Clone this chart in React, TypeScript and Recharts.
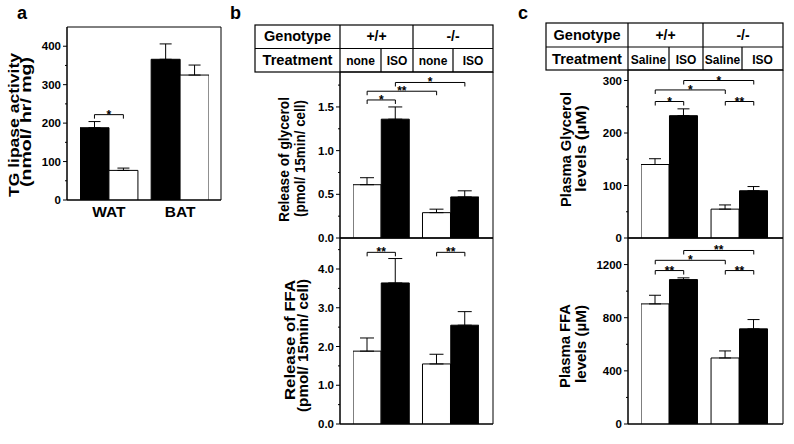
import React from 'react';
import {
  BarChart,
  Bar,
  XAxis,
  YAxis,
  CartesianGrid,
  ErrorBar,
  ReferenceLine,
  Cell
} from 'recharts';

// a: TG lipase activity, black = +/+, white = -/-
const tissues = ['WAT', 'BAT'];
const lipaseBlack = [188, 366];
const lipaseBlackErr = [16, 40];
const lipaseWhite = [77, 325];
const lipaseWhiteErr = [6, 26];
const lipaseTicks = [0, 100, 200, 300, 400];
const lipaseMinor = [50, 150, 250, 350];

// b: isolated adipocytes, bar order +/+ none, +/+ ISO, -/- none, -/- ISO
const genotypes = ['+/+', '-/-'];
const cellTreatments = ['none', 'ISO', 'none', 'ISO'];
const cellGlycerol = [0.61, 1.36, 0.29, 0.47];
const cellGlycerolErr = [0.08, 0.14, 0.04, 0.07];
const cellGlycerolTicks = [0, 0.5, 1, 1.5];
const cellGlycerolMinor = [0.25, 0.75, 1.25, 1.75];
const cellFfa = [1.88, 3.64, 1.55, 2.55];
const cellFfaErr = [0.34, 0.63, 0.25, 0.35];
const cellFfaTicks = [0, 1, 2, 3, 4];
const cellFfaMinor = [0.5, 1.5, 2.5, 3.5, 4.5];

// c: plasma levels, bar order +/+ Saline, +/+ ISO, -/- Saline, -/- ISO
const plasmaTreatments = ['Saline', 'ISO', 'Saline', 'ISO'];
const plasmaGlycerol = [140, 233, 55, 90];
const plasmaGlycerolErr = [11, 13, 8, 8];
const plasmaGlycerolTicks = [0, 100, 200, 300];
const plasmaGlycerolMinor = [50, 150, 250];
const plasmaFfa = [904, 1087, 497, 716];
const plasmaFfaErr = [65, 13, 53, 70];
const plasmaFfaTicks = [0, 400, 800, 1200];
const plasmaFfaMinor = [200, 600, 1000];

// significance brackets: [from bar, to bar, height, mark]
type Sig = [number, number, number, string];
const lipaseSig: Sig[] = [[0, 1, 222, '*']];
const cellGlycerolSig: Sig[] = [[0, 1, 1.58, '*'], [0, 2, 1.68, '**'], [1, 3, 1.78, '*']];
const cellFfaSig: Sig[] = [[0, 1, 4.43, '**'], [2, 3, 4.43, '**']];
const plasmaGlycerolSig: Sig[] = [[0, 1, 260, '*'], [0, 2, 282, '*'], [1, 3, 300, '*'], [2, 3, 260, '**']];
const plasmaFfaSig: Sig[] = [[0, 1, 1155, '**'], [0, 2, 1232, '*'], [1, 3, 1306, '**'], [2, 3, 1155, '**']];

const BLACK = '#000000';
const WHITE = '#ffffff';
const FONT = "'Liberation Sans', Arial, sans-serif";

// two bars per group, touching, with a small gap between the groups
const GROUP_GAP = 0.46;
const slot = (i: number) => i + Math.floor(i / 2) * GROUP_GAP;

const Bracket = (props: any) => {
  const { x1, y1, x2, mark } = props;
  return (
    <g>
      <path d={`M${x1},${y1 + 4}V${y1}H${x2}V${y1 + 4}`} fill="none" stroke={BLACK} strokeWidth={1} />
      <text x={(x1 + x2) / 2} y={y1 + 4} textAnchor="middle" fontSize={12} fontWeight="bold" fill={BLACK}>
        {mark}
      </text>
    </g>
  );
};

const makeTick = (major: number[], digits: number) => (props: any) => {
  const { x, y, payload } = props;
  const axisX = x + 6;
  const isMajor = major.includes(payload.value);
  return (
    <g>
      <line x1={axisX} x2={axisX - (isMajor ? 4 : 2)} y1={y} y2={y} stroke={BLACK} strokeWidth={1} />
      {isMajor && (
        <text x={x} y={y} dy={4} textAnchor="end" fontSize={11.5} fontWeight="bold" fill={BLACK}>
          {Number(payload.value).toFixed(digits)}
        </text>
      )}
    </g>
  );
};

interface PanelProps {
  plot: { x: number; y: number; w: number; h: number };
  values: number[];
  errs: number[];
  fills: string[];
  domain: [number, number];
  major: number[];
  minor: number[];
  digits: number;
  sig: Sig[];
  padL: number;
  padR: number;
  capWidth: number;
  groupLabels?: string[];
}

function Panel(p: PanelProps) {
  const MT = 12;
  const MR = 10;
  const MB = 8;
  const YW = 50;
  const xh = p.groupLabels ? 30 : 1;
  const rows = p.values.map((v, i) => ({ pos: slot(i), value: v, err: [0, p.errs[i]] }));
  const lo = slot(0) - 0.5;
  const hi = slot(p.values.length - 1) + 0.5;
  const groupTicks = p.groupLabels
    ? p.groupLabels.map((_, g) => (slot(2 * g) + slot(2 * g + 1)) / 2)
    : [];

  return (
    <div style={{ position: 'absolute', left: p.plot.x - YW, top: p.plot.y - MT }}>
      <BarChart
        width={YW + p.plot.w + MR}
        height={MT + p.plot.h + xh + MB}
        data={rows}
        margin={{ top: MT, right: MR, bottom: MB, left: 0 }}
        barCategoryGap={0}
        barGap={0}
      >
        <CartesianGrid
          stroke={BLACK}
          strokeWidth={1}
          horizontalCoordinatesGenerator={({ offset }: any) => [offset.top, offset.top + offset.height]}
          verticalCoordinatesGenerator={({ offset }: any) => [offset.left, offset.left + offset.width]}
        />
        <XAxis
          type="number"
          dataKey="pos"
          domain={[lo, hi]}
          allowDataOverflow
          padding={{ left: p.padL, right: p.padR }}
          height={xh}
          axisLine={{ stroke: BLACK }}
          tickLine={false}
          ticks={p.groupLabels ? groupTicks : []}
          interval={0}
          tickSize={4}
          tickMargin={2}
          tick={p.groupLabels ? { fill: BLACK, fontSize: 15.5, fontWeight: 'bold' } : false}
          tickFormatter={(_v: number, i: number) => (p.groupLabels ? p.groupLabels[i] : '')}
        />
        <YAxis
          type="number"
          domain={p.domain}
          allowDataOverflow
          ticks={[...p.major, ...p.minor]}
          interval={0}
          width={YW}
          tickSize={4}
          tickMargin={2}
          tickLine={false}
          axisLine={{ stroke: BLACK }}
          tick={makeTick(p.major, p.digits)}
        />
        <Bar dataKey="value" isAnimationActive={false} stroke={BLACK} strokeWidth={1}>
          {rows.map((_r, i) => (
            <Cell key={`cell-${i}`} fill={p.fills[i]} />
          ))}
          <ErrorBar dataKey="err" direction="y" width={p.capWidth} stroke={BLACK} strokeWidth={1} isAnimationActive={false} />
        </Bar>
        {p.sig.map(([a, b, h, mark], i) => (
          <ReferenceLine
            key={`sig-${i}`}
            segment={[{ x: slot(a), y: h }, { x: slot(b), y: h }]}
            ifOverflow="visible"
            shape={(lp: any) => <Bracket {...lp} mark={mark} />}
          />
        ))}
      </BarChart>
    </div>
  );
}

function RotatedTitle({ text, x, y, len }: { text: string; x: number; y: number; len: number }) {
  return (
    <text
      transform={`translate(${x},${y}) rotate(-90)`}
      textAnchor="middle"
      fontSize={14.5}
      fontWeight="bold"
      fill={BLACK}
      textLength={len}
      lengthAdjust="spacingAndGlyphs"
    >
      {text}
    </text>
  );
}

interface TableProps {
  xs: [number, number, number, number, number, number]; // left, label|+/+, split, genotype split, split, right
  ys: [number, number, number];
  baselines: [number, number];
  treatments: string[];
}

function GenotypeTable({ xs, ys, baselines, treatments }: TableProps) {
  const [x0, x1, s1, xg, s2, x3] = xs;
  const [y0, ym, y1] = ys;
  const subCells = [[x1, s1], [s1, xg], [xg, s2], [s2, x3]];
  const line = { stroke: BLACK, strokeWidth: 1.2 };
  return (
    <g>
      <rect x={x0} y={y0} width={x3 - x0} height={y1 - y0} fill="none" {...line} />
      <line x1={x0} x2={x3} y1={ym} y2={ym} {...line} />
      <line x1={x1} x2={x1} y1={y0} y2={y1} {...line} />
      <line x1={xg} x2={xg} y1={y0} y2={y1} {...line} />
      <line x1={s1} x2={s1} y1={ym} y2={y1} {...line} />
      <line x1={s2} x2={s2} y1={ym} y2={y1} {...line} />
      <text x={(x0 + x1) / 2} y={baselines[0]} textAnchor="middle" fontSize={14} fontWeight="bold" textLength={67} lengthAdjust="spacingAndGlyphs">
        Genotype
      </text>
      <text x={(x0 + x1) / 2} y={baselines[1]} textAnchor="middle" fontSize={14} fontWeight="bold" textLength={70} lengthAdjust="spacingAndGlyphs">
        Treatment
      </text>
      <text x={(x1 + xg) / 2} y={baselines[0]} textAnchor="middle" fontSize={14} fontWeight="bold">
        {genotypes[0]}
      </text>
      <text x={(xg + x3) / 2} y={baselines[0]} textAnchor="middle" fontSize={14} fontWeight="bold">
        {genotypes[1]}
      </text>
      {treatments.map((t, i) => (
        <text key={i} x={(subCells[i][0] + subCells[i][1]) / 2} y={baselines[1]} textAnchor="middle" fontSize={12} fontWeight="bold">
          {t}
        </text>
      ))}
    </g>
  );
}

export default function App() {
  const pairFills = [WHITE, BLACK, WHITE, BLACK];
  const lipaseValues = tissues.flatMap((_t, i) => [lipaseBlack[i], lipaseWhite[i]]);
  const lipaseErrs = tissues.flatMap((_t, i) => [lipaseBlackErr[i], lipaseWhiteErr[i]]);

  return (
    <div style={{ position: 'absolute', left: 0, top: 0, width: 794, height: 444, background: '#fff', fontFamily: FONT }}>
      <Panel
        plot={{ x: 67, y: 27, w: 154, h: 173 }}
        values={lipaseValues}
        errs={lipaseErrs}
        fills={[BLACK, WHITE, BLACK, WHITE]}
        domain={[0, 450]}
        major={lipaseTicks}
        minor={lipaseMinor}
        digits={0}
        sig={lipaseSig}
        padL={13}
        padR={12}
        capWidth={6}
        groupLabels={tissues}
      />
      <Panel
        plot={{ x: 340, y: 72, w: 153, h: 166 }}
        values={cellGlycerol}
        errs={cellGlycerolErr}
        fills={pairFills}
        domain={[0, 1.9]}
        major={cellGlycerolTicks}
        minor={cellGlycerolMinor}
        digits={1}
        sig={cellGlycerolSig}
        padL={13}
        padR={14}
        capWidth={7}
      />
      <Panel
        plot={{ x: 340, y: 238, w: 153, h: 186 }}
        values={cellFfa}
        errs={cellFfaErr}
        fills={pairFills}
        domain={[0, 4.8]}
        major={cellFfaTicks}
        minor={cellFfaMinor}
        digits={1}
        sig={cellFfaSig}
        padL={13}
        padR={14}
        capWidth={7}
      />
      <Panel
        plot={{ x: 628, y: 70, w: 155, h: 168 }}
        values={plasmaGlycerol}
        errs={plasmaGlycerolErr}
        fills={pairFills}
        domain={[0, 320]}
        major={plasmaGlycerolTicks}
        minor={plasmaGlycerolMinor}
        digits={0}
        sig={plasmaGlycerolSig}
        padL={13}
        padR={15}
        capWidth={6}
      />
      <Panel
        plot={{ x: 628, y: 238, w: 155, h: 186 }}
        values={plasmaFfa}
        errs={plasmaFfaErr}
        fills={pairFills}
        domain={[0, 1400]}
        major={plasmaFfaTicks}
        minor={plasmaFfaMinor}
        digits={0}
        sig={plasmaFfaSig}
        padL={13}
        padR={15}
        capWidth={6}
      />

      <svg width={794} height={444} style={{ position: 'absolute', left: 0, top: 0, pointerEvents: 'none' }} fontFamily={FONT}>
        <text x={17} y={19} fontSize={18} fontWeight="bold">a</text>
        <text x={230} y={19} fontSize={18} fontWeight="bold">b</text>
        <text x={518} y={19} fontSize={18} fontWeight="bold">c</text>

        <GenotypeTable xs={[255, 340, 381, 413, 453, 493]} ys={[25, 48.5, 72]} baselines={[40.5, 65]} treatments={cellTreatments} />
        <GenotypeTable xs={[546, 628, 669, 703, 742, 783]} ys={[23, 47, 70]} baselines={[40, 64]} treatments={plasmaTreatments} />

        <RotatedTitle text="TG lipase activity" x={19} y={125} len={144} />
        <RotatedTitle text="(nmol/ hr/ mg)" x={30.5} y={122} len={130} />
        <RotatedTitle text="Release of glycerol" x={288.5} y={159.5} len={125} />
        <RotatedTitle text="(pmol/ 15min/ cell)" x={305} y={158.5} len={117} />
        <RotatedTitle text="Release of FFA" x={294.5} y={340} len={120} />
        <RotatedTitle text="(pmol/ 15min/ cell)" x={307.5} y={345.5} len={133} />
        <RotatedTitle text="Plasma Glycerol" x={570.5} y={149.5} len={115} />
        <RotatedTitle text="levels (µM)" x={585.5} y={148.5} len={87} />
        <RotatedTitle text="Plasma FFA" x={570} y={346} len={84} />
        <RotatedTitle text="levels (µM)" x={585.5} y={344} len={78} />
      </svg>
    </div>
  );
}
